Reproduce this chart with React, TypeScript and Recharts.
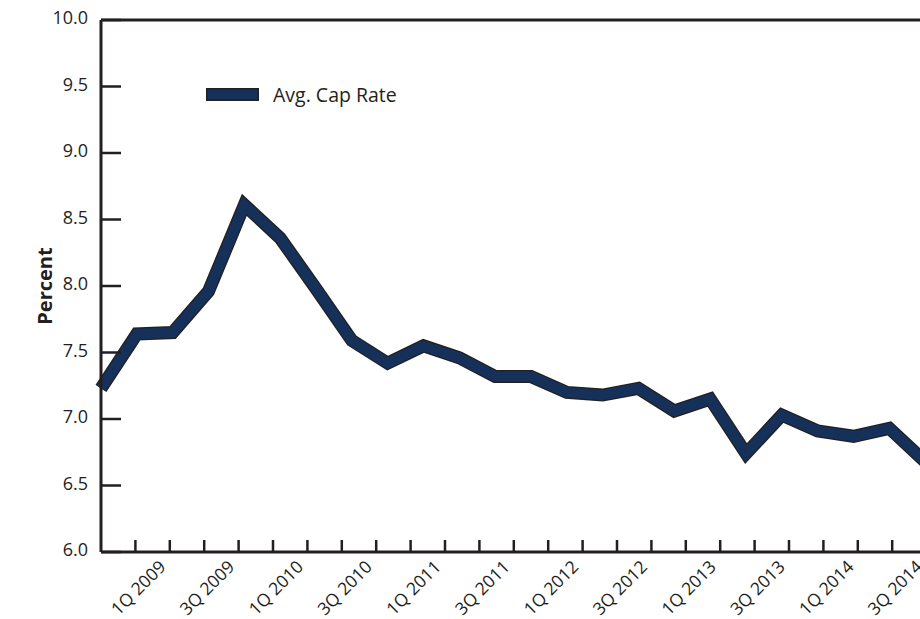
import { LineChart, Line, XAxis, YAxis, ReferenceLine, Legend } from 'recharts';

// quarter labels for the category axis (ticks), one per quarter
const quarters = [
  '3Q 2008', '4Q 2008', '1Q 2009', '2Q 2009', '3Q 2009', '4Q 2009',
  '1Q 2010', '2Q 2010', '3Q 2010', '4Q 2010', '1Q 2011', '2Q 2011',
  '3Q 2011', '4Q 2011', '1Q 2012', '2Q 2012', '3Q 2012', '4Q 2012',
  '1Q 2013', '2Q 2013', '3Q 2013', '4Q 2013', '1Q 2014', '2Q 2014',
  '3Q 2014', '4Q 2014',
];

// average cap rate, percent, 3Q 2008 onward
const capRate = [
  7.23, 7.64, 7.65, 7.96, 8.61, 8.36, 7.98, 7.59, 7.42, 7.55, 7.46, 7.32,
  7.32, 7.2, 7.18, 7.23, 7.06, 7.15, 6.74, 7.03, 6.91, 6.87, 6.93, 6.68,
];

const yTicks = [6, 6.5, 7, 7.5, 8, 8.5, 9, 9.5, 10];

const INK = '#231f20';
const NAVY = '#15315a';
const FONT = '"Open Sans", sans-serif';

const data = capRate.map((rate, idx) => ({ idx, rate }));
const quarterTicks = quarters.map((_, i) => i);

function YTick(props: any) {
  const { x, y, payload } = props;
  const axisX = x + 13;
  return (
    <g>
      <line x1={axisX} x2={axisX + 20} y1={y} y2={y} stroke={INK} strokeWidth={2.5} />
      <text x={x} y={y + 4} textAnchor="end" fill={INK} fontSize={18} fontFamily={FONT}>
        {Number(payload.value).toFixed(1)}
      </text>
    </g>
  );
}

function XTick(props: any) {
  const { x, y, payload } = props;
  const i = payload.value as number;
  const label = i > 0 && i % 2 === 0 ? quarters[i] : null;
  const lx = x - 3;
  const ly = y + 16;
  return (
    <g>
      {i > 0 && <line x1={x} x2={x} y1={y} y2={y - 12} stroke={INK} strokeWidth={2.5} />}
      {label && (
        <text
          x={lx}
          y={ly}
          textAnchor="end"
          fill={INK}
          fontSize={17.5}
          fontFamily={FONT}
          transform={`rotate(-45, ${lx}, ${ly})`}
        >
          {label}
        </text>
      )}
    </g>
  );
}

function PercentLabel(props: any) {
  const { viewBox } = props;
  const cx = viewBox.x + 44;
  const cy = viewBox.y + viewBox.height / 2;
  return (
    <text
      x={cx}
      y={cy}
      textAnchor="middle"
      dominantBaseline="central"
      fill={INK}
      fontSize={20}
      fontWeight="bold"
      fontFamily={FONT}
      transform={`rotate(-90, ${cx}, ${cy})`}
    >
      Percent
    </text>
  );
}

function LegendBox() {
  return (
    <div style={{ display: 'flex', alignItems: 'center', gap: 14, fontFamily: FONT, fontSize: 19.5, color: INK }}>
      <svg width={53} height={13}>
        <rect x={0.75} y={0.75} width={51.5} height={11.5} fill={NAVY} stroke={INK} strokeWidth={1.5} />
      </svg>
      <span>Avg. Cap Rate</span>
    </div>
  );
}

export default function App() {
  return (
    <div style={{ position: 'absolute', left: 0, top: 0, width: 920, height: 619, overflow: 'hidden', background: '#fff' }}>
      <LineChart width={1000} height={619} data={data} margin={{ top: 20, right: 39, left: 0, bottom: 0 }}>
        <XAxis xAxisId="pts" dataKey="idx" type="number" domain={[0, 24]} hide />
        <XAxis
          xAxisId="cat"
          dataKey="idx"
          type="number"
          domain={[0, 25]}
          ticks={quarterTicks}
          interval={0}
          allowDataOverflow
          height={67}
          tickSize={0}
          tickMargin={0}
          tickLine={false}
          axisLine={{ stroke: INK, strokeWidth: 3 }}
          tick={<XTick />}
        />
        <YAxis
          domain={[6, 10]}
          ticks={yTicks}
          interval={0}
          width={101}
          tickSize={0}
          tickMargin={13}
          tickLine={false}
          axisLine={{ stroke: INK, strokeWidth: 3 }}
          tick={<YTick />}
          label={<PercentLabel />}
        />
        <ReferenceLine xAxisId="pts" y={10} stroke={INK} strokeWidth={3} />
        <Legend
          layout="horizontal"
          verticalAlign="middle"
          align="center"
          wrapperStyle={{ left: 206, top: 81, width: 'auto' }}
          content={<LegendBox />}
        />
        <Line
          xAxisId="pts"
          dataKey="rate"
          stroke={INK}
          strokeWidth={13}
          strokeLinejoin="miter"
          strokeMiterlimit={10}
          dot={false}
          activeDot={false}
          legendType="none"
          isAnimationActive={false}
        />
        <Line
          xAxisId="pts"
          dataKey="rate"
          name="Avg. Cap Rate"
          stroke={NAVY}
          strokeWidth={10.5}
          strokeLinejoin="miter"
          strokeMiterlimit={10}
          dot={false}
          activeDot={false}
          isAnimationActive={false}
        />
      </LineChart>
    </div>
  );
}
